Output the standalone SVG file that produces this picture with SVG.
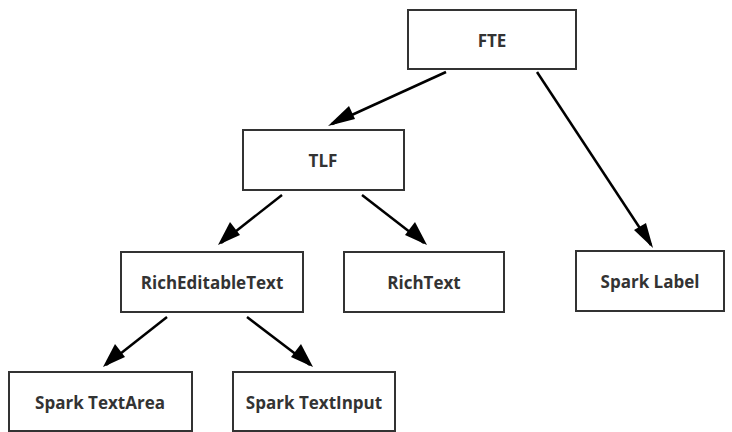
<svg xmlns="http://www.w3.org/2000/svg" width="732" height="432" viewBox="0 0 732 432">
<style>
.box{fill:#fff;stroke:#333;stroke-width:2}
.lbl{font-family:"Open Sans","Liberation Sans",sans-serif;font-weight:bold;font-size:17px;fill:#333;text-anchor:middle;dominant-baseline:central}
.edge{stroke:#000;stroke-width:2.5;fill:none}
.head{fill:#000}
</style>
<rect width="732" height="432" fill="#fff"/>
<g id="connectors">
<line class="edge" x1="446" y1="72" x2="332" y2="124"/>
<path class="head" d="M328,126 L349,106 L355,119 Z"/>
<line class="edge" x1="537" y1="72" x2="651" y2="245"/>
<path class="head" d="M653,248 L634,230 L646,223 Z"/>
<line class="edge" x1="282" y1="195" x2="221" y2="243"/>
<path class="head" d="M218,245 L230,222 L240,235 Z"/>
<line class="edge" x1="362" y1="195" x2="424" y2="243"/>
<path class="head" d="M427,245 L405,235 L415,222 Z"/>
<line class="edge" x1="167" y1="317" x2="106" y2="365"/>
<path class="head" d="M103,367 L115,344 L125,357 Z"/>
<line class="edge" x1="247" y1="317" x2="310" y2="365"/>
<path class="head" d="M313,367 L291,357 L301,344 Z"/>
</g>
<g id="FTE"><rect class="box" x="408" y="10" width="168" height="59"/><text class="lbl" x="492" y="40">FTE</text></g>
<g id="TLF"><rect class="box" x="243" y="130" width="161" height="60"/><text class="lbl" x="323" y="160">TLF</text></g>
<g id="RichEditableText"><rect class="box" x="121" y="252" width="182" height="60"/><text class="lbl" x="212" y="282">RichEditableText</text></g>
<g id="RichText"><rect class="box" x="344" y="252" width="160" height="60"/><text class="lbl" x="424" y="282">RichText</text></g>
<g id="SparkLabel"><rect class="box" x="576" y="251" width="148" height="60"/><text class="lbl" x="650" y="281">Spark Label</text></g>
<g id="SparkTextArea"><rect class="box" x="9" y="372" width="183" height="59"/><text class="lbl" x="100" y="402">Spark TextArea</text></g>
<g id="SparkTextInput"><rect class="box" x="233" y="372" width="162" height="59"/><text class="lbl" x="314" y="402">Spark TextInput</text></g>
</svg>
